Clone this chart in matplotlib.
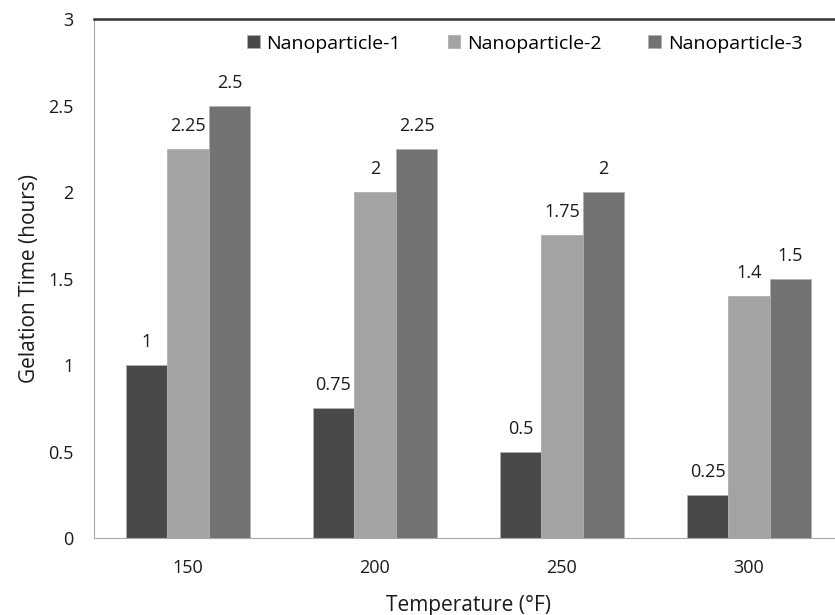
import matplotlib.pyplot as plt
import numpy as np

plt.rcParams['font.family'] = ['Open Sans', 'DejaVu Sans']

temps = ['150', '200', '250', '300']
series = ['Nanoparticle-1', 'Nanoparticle-2', 'Nanoparticle-3']
np1 = [1, 0.75, 0.5, 0.25]
np2 = [2.25, 2, 1.75, 1.4]
np3 = [2.5, 2.25, 2, 1.5]
labels = [['1', '0.75', '0.5', '0.25'],
          ['2.25', '2', '1.75', '1.4'],
          ['2.5', '2.25', '2', '1.5']]
colors = ['#494949', '#a3a3a3', '#727272']

fig = plt.figure(figsize=(8.35, 6.15), dpi=100)
ax = fig.add_axes([0.113, 0.125, 0.896, 0.844])

x = np.arange(len(temps))
w = 0.222
for i, (vals, name) in enumerate(zip([np1, np2, np3], series)):
    pos = x + (i - 1) * w
    ax.bar(pos, vals, w, color=colors[i], edgecolor='#b0b0b0', linewidth=0.6, label=name)
    for p, v, t in zip(pos, vals, labels[i]):
        ax.annotate(t, (p, v), xytext=(0, 10), textcoords='offset points',
                    ha='center', va='bottom', fontsize=13, color='#1a1a1a')

ax.set_xlim(-0.5, 3.5)
ax.set_ylim(0, 3)
ax.set_yticks([0, 0.5, 1, 1.5, 2, 2.5, 3])
ax.set_yticklabels(['0', '0.5', '1', '1.5', '2', '2.5', '3'])
ax.set_xticks(x)
ax.set_xticklabels(temps)
ax.tick_params(length=0, labelsize=13, colors='#1a1a1a')
ax.tick_params(axis='y', pad=15)
ax.tick_params(axis='x', pad=15)

ax.spines['top'].set_color('#333333')
ax.spines['top'].set_linewidth(1.8)
ax.spines['left'].set_color('#a8a8a8')
ax.spines['bottom'].set_color('#a8a8a8')
ax.spines['right'].set_visible(False)

ax.set_xlabel('Temperature (°F)', fontsize=15, color='#1a1a1a', labelpad=13)
ax.set_ylabel('Gelation Time (hours)', fontsize=15, color='#1a1a1a', labelpad=6)

ax.legend(loc='upper center', bbox_to_anchor=(0.575, 1.0), ncol=3, frameon=False,
          fontsize=14, handlelength=0.65, handleheight=0.65, handletextpad=0.35,
          columnspacing=2.4, borderaxespad=0.4)

fig.savefig('out.png', dpi=100)
